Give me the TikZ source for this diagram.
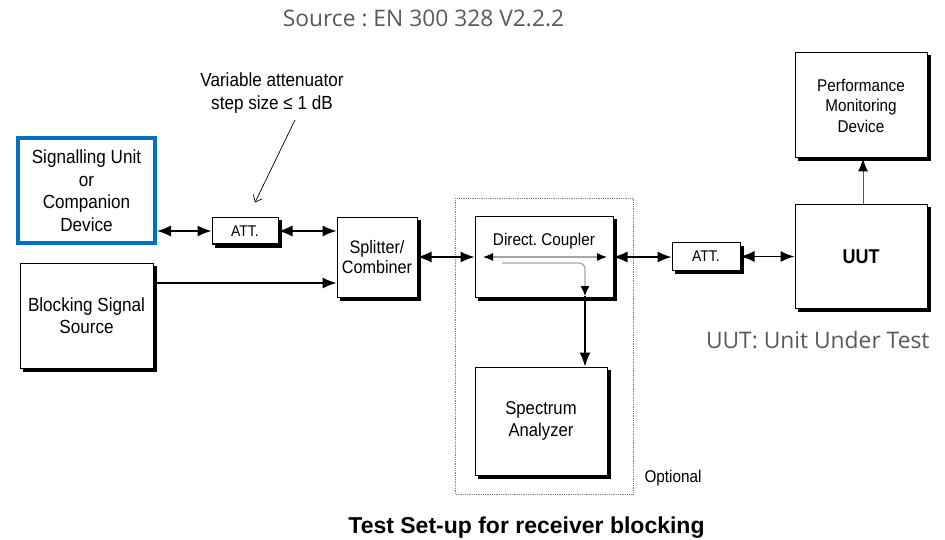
\documentclass[tikz,border=0pt]{standalone}
\usepackage{fontspec}
\setmainfont{Liberation Sans}
\newfontfamily\nar[FakeStretch=0.9]{Liberation Sans}
\newfontfamily\seg{Open Sans}
\usetikzlibrary{arrows.meta}
\pgfdeclarelayer{bg}
\pgfsetlayers{bg,main}
\definecolor{sigblue}{RGB}{0,112,192}
\definecolor{txtgray}{RGB}{89,89,89}
\tikzset{
  box/.style={draw, line width=1pt, fill=white, align=center, inner sep=0pt},
  fs/.style 2 args={font=\nar\fontsize{#1}{#2}\selectfont},
  conn/.style={line width=1.4pt, {Latex[length=14pt,width=11pt]}-{Latex[length=14pt,width=11pt]}},
  oneway/.style={line width=1.4pt, -{Latex[length=14pt,width=11pt]}},
}
\frenchspacing
\begin{document}
\begin{tikzpicture}[x=1pt,y=-1pt]
\useasboundingbox (0,0) rectangle (945,540);
% dotted optional frame
\draw[densely dotted, line width=0.8pt, gray] (455,198) rectangle (633,494);
% boxes
\node[draw=sigblue, line width=4pt, fill=white, align=center, inner sep=0pt,
      minimum width=137pt, minimum height=105pt, fs={19}{22.5}] (sig) at (86.5,190.5)
      {Signalling Unit\\or\\Companion\\Device};
\node[box, minimum width=133pt, minimum height=105pt, fs={19}{22}] (blk) at (86.5,315.5)
      {Blocking Signal\\Source};
\node[box, minimum width=66pt, minimum height=26pt, fs={15.5}{18}] (att1) at (245,231) {ATT.};
\node[box, minimum width=80pt, minimum height=79pt, fs={18}{20}] (spl) at (377,257.5)
      {Splitter/\\Combiner};
\node[box, minimum width=138pt, minimum height=80pt] (dc) at (544,257) {};
\node[fs={17}{19}, anchor=base] (dct) at (544,245) {Direct. Coupler};
\node[box, minimum width=68pt, minimum height=27pt, fs={15.5}{18}] (att2) at (706,256.5) {ATT.};
\node[box, minimum width=132pt, minimum height=103pt, font=\nar\bfseries\fontsize{20}{22}\selectfont] (uut) at (861,256.5) {UUT};
\node[box, minimum width=132pt, minimum height=105pt, fs={17}{20.5}] (pmd) at (861,105.5)
      {Performance\\Monitoring\\Device};
\node[box, minimum width=132pt, minimum height=108pt, fs={18.5}{22}] (sa) at (541,421)
      {Spectrum\\Analyzer};
% shadows
\begin{pgfonlayer}{bg}
\foreach \n in {blk,att1,spl,dc,att2,uut,pmd,sa}
  \fill ([xshift=3pt,yshift=-3pt]\n.south west) rectangle ([xshift=3pt,yshift=-3pt]\n.north east);
\end{pgfonlayer}
% texts
\node[fs={19}{23}, align=center] (ann) at (272,93) {Variable attenuator\\step size ≤ 1 dB};
\node[fs={17}{19}, anchor=west] (opt) at (641,478) {Optional};
\node[font=\seg\fontsize{22.8}{26}\selectfont, text=txtgray] (src) at (423.5,18) {Source : EN 300 328 V2.2.2};
\node[font=\seg\fontsize{22.8}{26}\selectfont, text=txtgray, anchor=east] (uutl) at (933,340) {UUT: Unit Under Test};
\node[font=\bfseries\fontsize{23}{26}\selectfont] (title) at (526.5,528) {Test Set-up for receiver blocking};
% connectors
\draw[conn] (att1.west) -- (att1.west -| sig.east);
\draw[conn] (att1.east) -- (att1.east -| spl.west);
\coordinate (bl) at (153,283);
\draw[oneway] (bl -| blk.east) -- (bl -| spl.west);
\draw[conn] (spl.east |- dc.west) -- (dc.west);
\draw[conn] (dc.east) -- (dc.east -| att2.west);
\draw[conn] (att2.east) -- (att2.east -| uut.west);
\coordinate (ux) at (863,0);
\draw[line width=1pt, gray!70!black, -{Latex[length=13pt,width=10pt,black]}] (ux |- uut.north) -- (ux |- pmd.south);
% inside coupler
\coordinate (ca) at (483,257);
\coordinate (cb) at (607,257);
\draw[line width=1.2pt, gray!70, {Latex[length=10pt,width=8pt,black]}-{Latex[length=10pt,width=8pt,black]}] (ca) -- (cb);
\coordinate (tap) at (585,296);
\draw[line width=1.2pt, gray!70, -{Latex[length=10pt,width=9pt,black]}] (502,263) -- (579,263) arc[start angle=-90, end angle=0, radius=6] -- (tap);
\draw[oneway] (tap) -- (tap |- sa.north);
% annotation arrow
\draw[line width=0.7pt, -{Straight Barb[length=6pt,width=10pt]}] (295,120) -- ([xshift=10pt,yshift=15pt]att1.north);
\end{tikzpicture}
\end{document}
